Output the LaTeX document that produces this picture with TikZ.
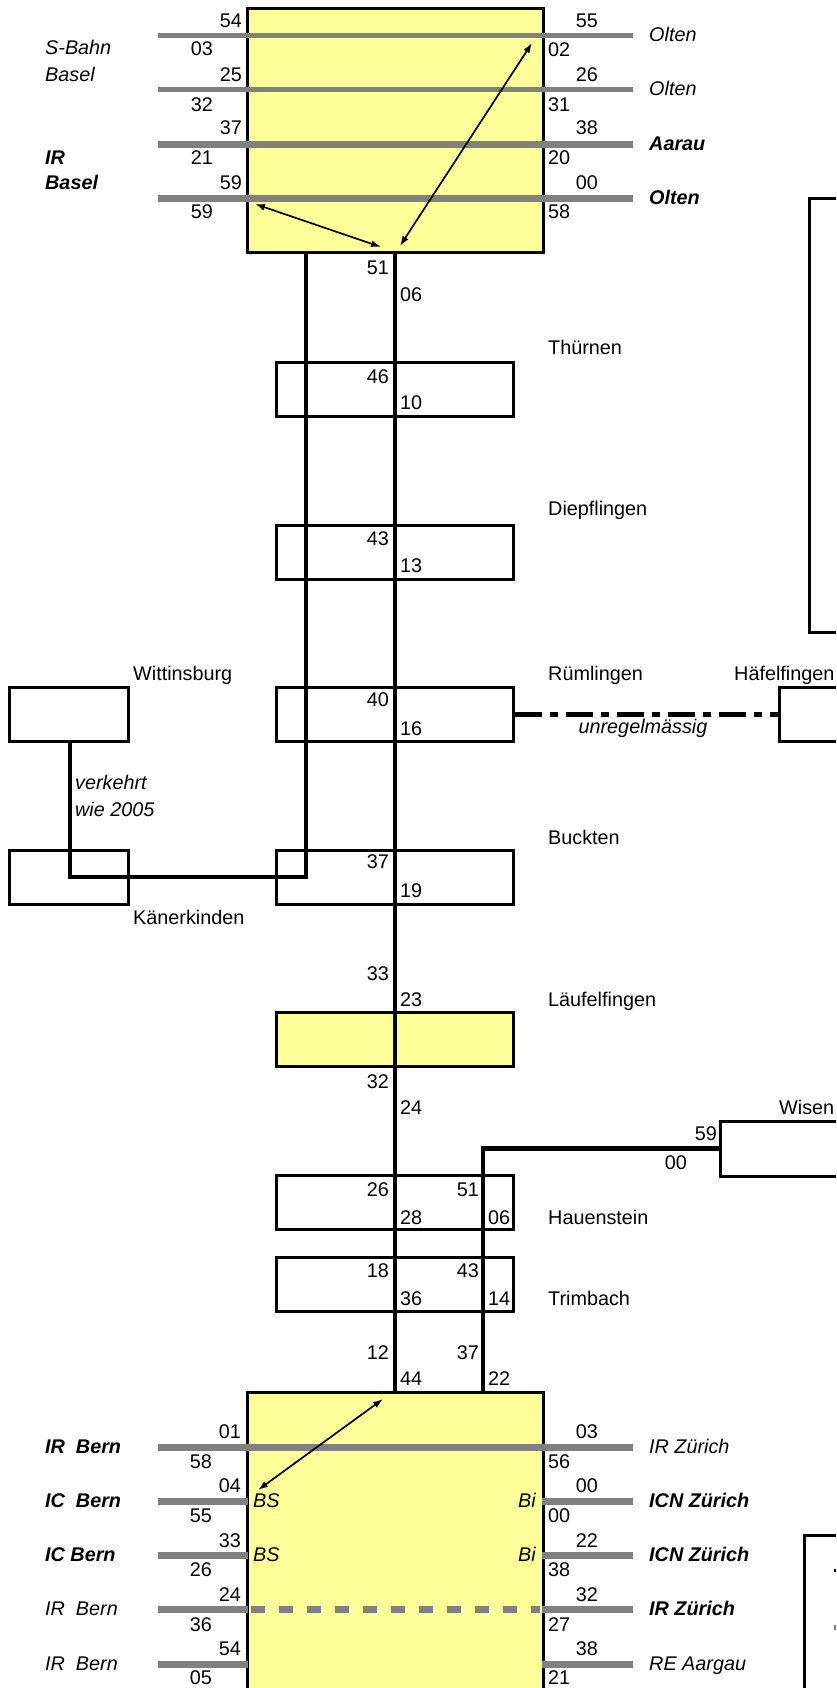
\documentclass[tikz,border=0pt]{standalone}
\usepackage{fontspec}
\setmainfont{Liberation Sans}
\usetikzlibrary{arrows.meta}
\definecolor{gelb}{HTML}{FFFF99}
\definecolor{grau}{HTML}{808080}
\newcommand\myfs{\fontsize{19.8pt}{24pt}\selectfont}
\begin{document}
\begin{tikzpicture}[x=1pt,y=-1pt,
  bigbox/.style={draw=black, line width=3pt, fill=gelb, inner sep=0pt},
  stbox/.style={draw=black, line width=3pt, inner sep=0pt, minimum width=237pt, minimum height=54pt},
  sidebox/.style={draw=black, line width=3pt, inner sep=0pt},
  route/.style={line width=4.5pt},
  dashdot/.style={line width=5pt, dash pattern=on 27pt off 8pt on 8pt off 8pt},
  glthin/.style={grau, line width=5pt},
  glthick/.style={grau, line width=7pt},
  gldash/.style={grau, line width=7pt, dash pattern=on 14pt off 14pt},
  arr/.style={line width=1.7pt, >={Latex[length=10pt,width=7pt]}, <->},
  nR/.style={anchor=base east, inner sep=0pt, font=\myfs},
  nL/.style={anchor=base west, inner sep=0pt, font=\myfs},
  lbl/.style={anchor=base west, inner sep=0pt, font=\myfs},
  ilbl/.style={anchor=base west, inner sep=0pt, font=\myfs\itshape},
  bilbl/.style={anchor=base west, inner sep=0pt, font=\myfs\bfseries\itshape},
  iR/.style={anchor=base east, inner sep=0pt, font=\myfs\itshape},
]
\useasboundingbox (0,0) rectangle (836,1688);
\clip (0,0) rectangle (836,1688);

% big station boxes
\node[bigbox, minimum width=296pt, minimum height=244pt] (basel) at (395,131) {};
\node[bigbox, minimum width=296pt, minimum height=328pt] (olten) at (395,1556) {};

% right-hand boxes cut by the edge
\node[sidebox, minimum width=61pt, minimum height=433pt] (rbox) at (839.5,415.5) {};
\node[sidebox, minimum width=66pt, minimum height=185pt] (legend) at (837,1627.5) {};

% station boxes on the line
\node[stbox] (thu) at (394.5,389) {};
\node[stbox] (die) at (394.5,552) {};
\node[stbox] (rue) at (394.5,714) {};
\node[stbox] (buc) at (394.5,877) {};
\node[stbox, fill=gelb] (lae) at (394.5,1039) {};
\node[stbox] (hau) at (394.5,1202.5) {};
\node[stbox] (tri) at (394.5,1284) {};
\node[sidebox, minimum width=119pt, minimum height=54pt] (wit) at (68.5,714) {};
\node[sidebox, minimum width=119pt, minimum height=54pt] (kae) at (68.5,877) {};
\node[sidebox, minimum width=81pt, minimum height=54pt] (hae) at (819.5,714) {};
\node[sidebox, minimum width=140pt, minimum height=55pt] (wis) at (790,1148.5) {};

% routes
\coordinate (m1) at (395,253);
\coordinate (m2) at (395,1392);
\draw[route] (m1) -- (m2);
\coordinate (l1) at (306,253);
\coordinate (l2) at (306,877);
\coordinate (l3) at (70,877);
\draw[route] (l1) -- (l2) -- (l3) -- (wit.south -| l3);
\coordinate (w2) at (483,1392);
\draw[route] (wis.west) -| (w2);
\draw[dashdot] (rue.east) -- (hae.west);

% legend samples at the right edge
\coordinate (lg1) at (834,1570);
\coordinate (lg2) at (845,1570);
\coordinate (lg3) at (834,1627);
\coordinate (lg4) at (845,1627);
\draw[line width=3pt] (lg1) -- (lg2);
\draw[glthin] (lg3) -- (lg4);

% top tracks
\foreach \y/\s [count=\i] in {36/glthin, 90/glthin, 145/glthick, 199/glthick}{
  \coordinate (ta\i) at (158,\y);
  \coordinate (tb\i) at (633,\y);
  \draw[\s] (ta\i) -- (tb\i);
}
% bottom tracks
\coordinate (ba1) at (158,1447);
\coordinate (bb1) at (633,1447);
\draw[glthick] (ba1) -- (bb1);
\foreach \y [count=\i from 2] in {1501,1555,1609,1664}{
  \coordinate (ba\i) at (158,\y);
  \coordinate (bc\i) at (248,\y);
  \coordinate (bd\i) at (542,\y);
  \coordinate (bb\i) at (633,\y);
  \draw[glthick] (ba\i) -- (bc\i);
  \draw[glthick] (bd\i) -- (bb\i);
}
\coordinate (dd1) at (251,1609);
\coordinate (dd2) at (540,1609);
\draw[gldash] (dd1) -- (dd2);

% arrows
\coordinate (a1) at (255,204);
\coordinate (a2) at (381,247);
\coordinate (a3) at (532,43);
\coordinate (a4) at (400,246);
\coordinate (a5) at (383,1399);
\coordinate (a6) at (258,1490);
\draw[arr] (a1) -- (a2);
\draw[arr] (a3) -- (a4);
\draw[arr] (a5) -- (a6);

% numbers top
\foreach \t/\x/\y [count=\i] in {54/242/28, 03/213/56, 25/242/82, 32/213/112, 37/242/135, 21/213/165, 59/242/190, 59/213/219,
  55/598/28, 26/598/82, 38/598/135, 00/598/190}
  \node[nR] (tn\i) at (\x,\y) {\t};
\foreach \t/\x/\y [count=\i] in {02/548/57, 31/548/112, 20/548/165, 58/548/219}
  \node[nL] (tm\i) at (\x,\y) {\t};

% numbers along the line
\foreach \t/\x/\y [count=\i] in {51/389/274, 46/389/383, 43/389/545, 40/389/706, 37/389/868, 33/389/980, 32/389/1088, 26/389/1196, 18/389/1277, 12/389/1359,
  51/479/1196, 43/479/1277, 37/479/1359, 59/717/1140, 00/687/1169}
  \node[nR] (ln\i) at (\x,\y) {\t};
\foreach \t/\x/\y [count=\i] in {06/400/301, 10/400/409, 13/400/572, 16/400/735, 19/400/897, 23/400/1006, 24/400/1114, 28/400/1224, 36/400/1305, 44/400/1385,
  06/488/1224, 14/488/1305, 22/488/1385}
  \node[nL] (lm\i) at (\x,\y) {\t};

% numbers bottom
\foreach \t/\x/\y [count=\i] in {01/241/1438, 04/241/1492, 33/241/1547, 24/241/1601, 54/241/1655,
  58/212/1468, 55/212/1522, 26/212/1576, 36/212/1631, 05/212/1684,
  03/598/1438, 00/598/1492, 22/598/1547, 32/598/1601, 38/598/1655}
  \node[nR] (bn\i) at (\x,\y) {\t};
\foreach \t/\x/\y [count=\i] in {56/548/1468, 00/548/1522, 38/548/1576, 27/548/1631, 21/548/1684}
  \node[nL] (bm\i) at (\x,\y) {\t};

% station names
\foreach \t/\x/\y [count=\i] in {Thürnen/548/354, Diepflingen/548/515, Rümlingen/548/680, Buckten/548/844, Läufelfingen/548/1006,
  Hauenstein/548/1224, Trimbach/548/1305, Wittinsburg/133/680, Känerkinden/133/924, Häfelfingen/734/680, Wisen/779/1114}
  \node[lbl] (st\i) at (\x,\y) {\t};

% notes
\node[ilbl] (v1) at (75,789) {verkehrt};
\node[ilbl] (v2) at (75,816) {wie 2005};
\node[anchor=base, inner sep=0pt, font=\myfs\itshape] (unr) at (643,733) {unregelmässig};

% direction labels top
\node[ilbl] (d1) at (45,55) {S-Bahn};
\node[ilbl] (d2) at (45,82) {Basel};
\node[bilbl] (d3) at (45,165) {IR};
\node[bilbl] (d4) at (45,190) {Basel};
\node[ilbl] (d5) at (649,42) {Olten};
\node[ilbl] (d6) at (649,96) {Olten};
\node[bilbl] (d7) at (649,151) {Aarau};
\node[bilbl] (d8) at (649,205) {Olten};

% direction labels bottom
\node[bilbl] (e1) at (45,1453) {IR\ \ Bern};
\node[bilbl] (e2) at (45,1507) {IC\ \ Bern};
\node[bilbl] (e3) at (45,1561) {IC Bern};
\node[ilbl] (e4) at (45,1615) {IR\ \ Bern};
\node[ilbl] (e5) at (45,1670) {IR\ \ Bern};
\node[ilbl] (f1) at (649,1453) {IR Zürich};
\node[bilbl] (f2) at (649,1507) {ICN Zürich};
\node[bilbl] (f3) at (649,1561) {ICN Zürich};
\node[bilbl] (f4) at (649,1615) {IR Zürich};
\node[ilbl] (f5) at (649,1670) {RE Aargau};
\node[ilbl] (g1) at (253,1507) {BS};
\node[ilbl] (g2) at (253,1561) {BS};
\node[iR] (g3) at (536,1507) {Bi};
\node[iR] (g4) at (536,1561) {Bi};
\end{tikzpicture}
\end{document}
